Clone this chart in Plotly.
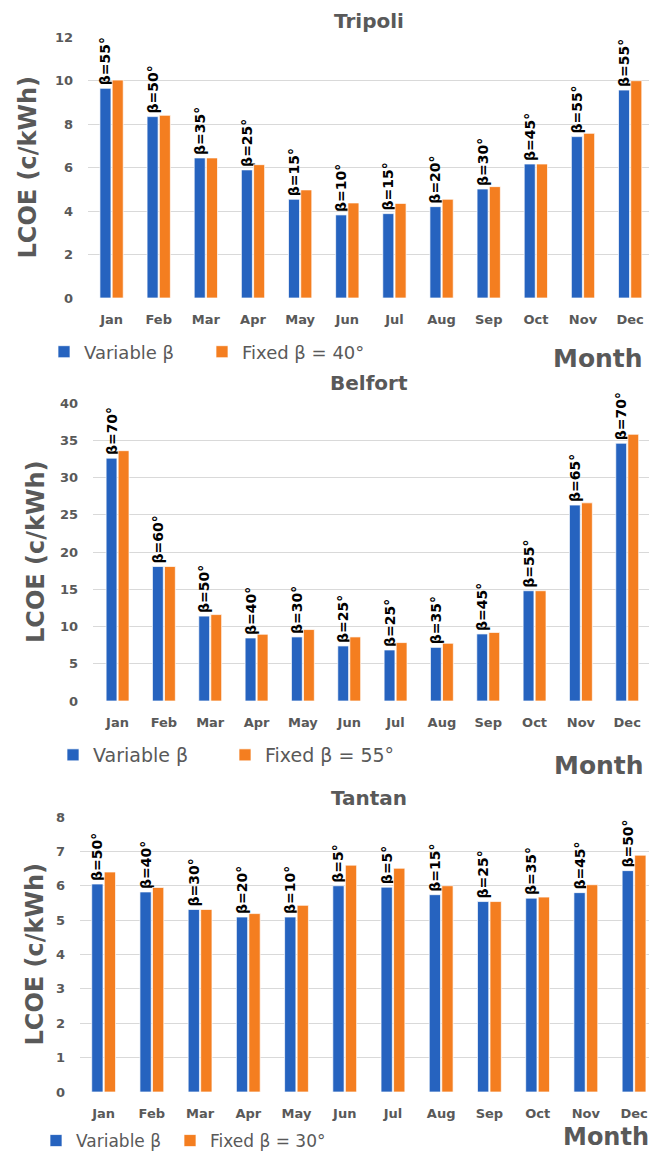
import plotly.graph_objects as go
from plotly.subplots import make_subplots

months = ['Jan', 'Feb', 'Mar', 'Apr', 'May', 'Jun', 'Jul', 'Aug', 'Sep', 'Oct', 'Nov', 'Dec']

# Tripoli, fixed tilt 40 deg
tripoli_variable = [9.64, 8.34, 6.44, 5.89, 4.54, 3.82, 3.88, 4.20, 5.01, 6.16, 7.42, 9.56]
tripoli_fixed = [10.02, 8.40, 6.44, 6.13, 4.97, 4.37, 4.35, 4.54, 5.12, 6.16, 7.57, 9.99]
tripoli_beta = [55, 50, 35, 25, 15, 10, 15, 20, 30, 45, 55, 55]

# Belfort, fixed tilt 55 deg
belfort_variable = [32.6, 18.05, 11.4, 8.46, 8.6, 7.39, 6.85, 7.2, 9.0, 14.8, 26.3, 34.6]
belfort_fixed = [33.6, 18.05, 11.6, 8.96, 9.59, 8.6, 7.84, 7.75, 9.2, 14.8, 26.6, 35.8]
belfort_beta = [70, 60, 50, 40, 30, 25, 25, 35, 45, 55, 65, 70]

# Tantan, fixed tilt 30 deg
tantan_variable = [6.05, 5.82, 5.31, 5.09, 5.09, 6.0, 5.96, 5.74, 5.54, 5.64, 5.8, 6.44]
tantan_fixed = [6.4, 5.95, 5.31, 5.19, 5.43, 6.6, 6.51, 6.0, 5.54, 5.67, 6.03, 6.89]
tantan_beta = [50, 40, 30, 20, 10, 5, 5, 15, 25, 35, 45, 50]

fixed_angles = [40, 55, 30]
cities = ['Tripoli', 'Belfort', 'Tantan']

BLUE = '#2663BF'
ORANGE = '#F47E20'
GREY = '#595959'
FONT = 'DejaVu Sans'

panels = [
    (tripoli_variable, tripoli_fixed, tripoli_beta),
    (belfort_variable, belfort_fixed, belfort_beta),
    (tantan_variable, tantan_fixed, tantan_beta),
]

# page body has an 8px margin all round, keep the figure inside the window
OFF = 8
FW, FH = 657 - 2 * OFF, 1160 - 2 * OFF


def px(x):
    return (x - OFF) / FW


def py(y):
    return 1 - (y - OFF) / FH


# pixel layout of each panel: (left, top, bottom, x-range, y-max, dtick)
geom = [
    (88, 37, 298, [-0.5, 11.4], 12, 2),
    (93, 403, 701, [-0.53, 11.47], 40, 5),
    (80, 817, 1092, [-0.49, 11.31], 8, 1),
]
# legend items: (x of variable item, x of fixed item, centre y, font size)
legend_pos = [(44, 202, 352, 18), (53, 225, 755, 19), (36, 170, 1141, 17)]
title_y = [21, 383, 798]
ytitle_x = [28, 36, 34]
month_pos = [(598, 358, 25), (599, 765, 25), (606, 1137, 24)]

fig = make_subplots(rows=3, cols=1)

for i, (var, fix, beta) in enumerate(panels):
    # one legend per entry so each item can be placed like the original
    leg_a = f'legend{2 * i + 2}'
    leg_b = f'legend{2 * i + 3}'
    fig.add_trace(go.Bar(x=months, y=var, name='Variable β',
                         marker=dict(color=BLUE, line=dict(color='rgba(255,255,255,0.7)', width=1)),
                         text=[f'β={b}°' for b in beta], textposition='outside',
                         textangle=-90, constraintext='none', cliponaxis=False,
                         textfont=dict(family=FONT, size=14, color='black', weight='bold'),
                         legend=leg_a), row=i + 1, col=1)
    fig.add_trace(go.Bar(x=months, y=fix, name=f'Fixed β = {fixed_angles[i]}°',
                         marker=dict(color=ORANGE, line=dict(color='rgba(255,255,255,0.7)', width=1)),
                         legend=leg_b), row=i + 1, col=1)

    left, top, bottom, xr, ymax, dt = geom[i]
    ax = '' if i == 0 else str(i + 1)
    fig.layout['xaxis' + ax].update(domain=[px(left), 1], range=xr, automargin=False,
                                    tickfont=dict(family=FONT, size=13, color=GREY, weight='bold'),
                                    ticks='', showline=False, showgrid=False, ticklabelstandoff=12)
    fig.layout['yaxis' + ax].update(domain=[py(bottom), py(top)], range=[0, ymax], dtick=dt,
                                    automargin=False, showgrid=True,
                                    gridcolor='#D9D9D9', gridwidth=1, zeroline=False,
                                    tickfont=dict(family=FONT, size=13, color=GREY, weight='bold'),
                                    ticks='', showline=False, ticklabelstandoff=14)

    xa, xb, ly, fs = legend_pos[i]
    for leg, lx in ((leg_a, xa), (leg_b, xb)):
        fig.layout[leg] = dict(x=px(lx), y=py(ly), xanchor='left', yanchor='middle',
                               orientation='h', itemwidth=30, bgcolor='rgba(0,0,0,0)',
                               font=dict(family=FONT, size=fs, color=GREY))

    fig.add_annotation(text=cities[i], x=px(369), y=py(title_y[i]), xref='paper', yref='paper',
                       showarrow=False, xanchor='center', yanchor='middle',
                       font=dict(family=FONT, size=20, color=GREY, weight='bold'))
    fig.add_annotation(text='LCOE (c/kWh)', x=px(ytitle_x[i]), y=py((top + bottom) / 2),
                       xref='paper', yref='paper', showarrow=False, textangle=-90,
                       xanchor='center', yanchor='middle',
                       font=dict(family=FONT, size=24, color=GREY, weight='bold'))
    mx, my, ms = month_pos[i]
    fig.add_annotation(text='Month', x=px(mx), y=py(my), xref='paper', yref='paper',
                       showarrow=False, xanchor='center', yanchor='middle',
                       font=dict(family=FONT, size=ms, color=GREY, weight='bold'))

fig.update_layout(template='none', width=FW, height=FH, showlegend=True,
                  margin=dict(l=0, r=0, t=0, b=0, autoexpand=False),
                  plot_bgcolor='white', paper_bgcolor='white',
                  barmode='group', bargap=0.48, bargroupgap=0.1,
                  font=dict(family=FONT, color=GREY))

fig.write_html('out.html')
